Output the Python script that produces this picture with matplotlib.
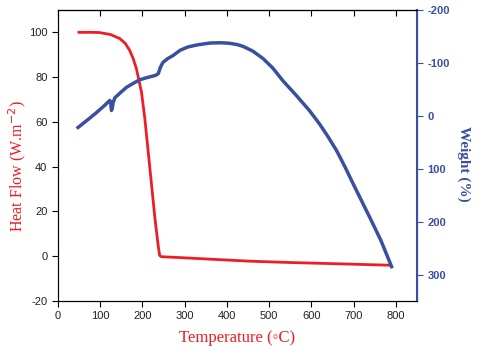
import matplotlib
matplotlib.use("Agg")
from matplotlib import pyplot as plt

plt.rcParams["axes.unicode_minus"] = False

# heat flow curve (left axis)
temp_hf = [50, 80, 99, 125, 147, 160, 170, 178, 186, 198, 206, 214, 222, 230,
           237.5, 241, 245, 289, 350, 454, 550, 650, 786]
heat_flow = [100, 100, 99.9, 99, 97.2, 95, 92, 88.5, 83.8, 73.4, 61.5, 46.6, 31.7, 16.8,
             4.9, 0.4, -0.2, -0.6, -1.2, -2.2, -2.8, -3.3, -4]

# weight curve (right axis, inverted)
temp_w = [48, 70, 90, 110, 123, 125, 127, 129, 131, 135, 150, 163, 180, 194, 210,
          225, 233, 238, 243, 249, 260, 273, 290, 308, 330, 360, 385, 407, 425,
          439, 462, 486, 509, 533, 565, 596, 620, 640, 660, 680, 700, 739, 765, 790]
weight = [22, 8, -5, -19, -29, -27, -10, -15, -25, -34, -45, -54, -62, -68, -72,
          -75, -77, -80, -92, -101, -108, -114, -124, -130, -134, -137.5, -138, -137, -134.5,
          -131, -122, -108, -90, -66, -38, -9.5, 16, 40, 66, 97, 130, 193, 236, 285]

red = "#ee1c25"
blue = "#3a4fa0"

fig = plt.figure(figsize=(4.94, 3.55), dpi=100)
ax = fig.add_axes([0.117, 0.152, 0.727, 0.82])
ax.plot(temp_hf, heat_flow, color=red, lw=2)
ax.set_xlim(0, 850)
ax.set_ylim(-20, 110)
ax.set_xticks(range(0, 801, 100))
ax.set_yticks(range(-20, 101, 20))
ax.tick_params(axis="both", labelsize=8, labelcolor="#222222", length=4, direction="out")
for lab in ax.get_xticklabels() + ax.get_yticklabels():
    lab.set_family("Liberation Sans")
ax.spines["left"].set_color("#555555")
ax.set_xlabel("Temperature (\u25e6C)", color=red, fontsize=12, family="Liberation Serif", labelpad=6)
ax.set_ylabel("Heat Flow (W.m$^{-2}$)", color=red, fontsize=11.5, family="Liberation Serif")
ax.yaxis.set_label_coords(-0.082, 0.464)

# inward ticks along the top
top = ax.secondary_xaxis("top")
top.set_xticks(range(0, 801, 100))
top.tick_params(direction="in", length=4, labeltop=False)

ax2 = ax.twinx()
ax2.plot(temp_w, weight, color=blue, lw=2.5)
ax2.set_ylim(350, -200)
ax2.set_yticks(range(-200, 301, 100))
ax2.tick_params(axis="y", labelsize=8, labelcolor=blue, color=blue, length=4)
for lab in ax2.get_yticklabels():
    lab.set_family("Liberation Sans")
    lab.set_fontweight("bold")
ax2.spines["right"].set_color(blue)
ax2.spines["right"].set_linewidth(1.5)
ax2.set_ylabel("Weight (%)", color=blue, fontsize=11, family="Liberation Serif",
               fontweight="bold", rotation=270)
ax2.yaxis.set_label_coords(1.15, 0.471)

plt.savefig("out.png", dpi=100)
